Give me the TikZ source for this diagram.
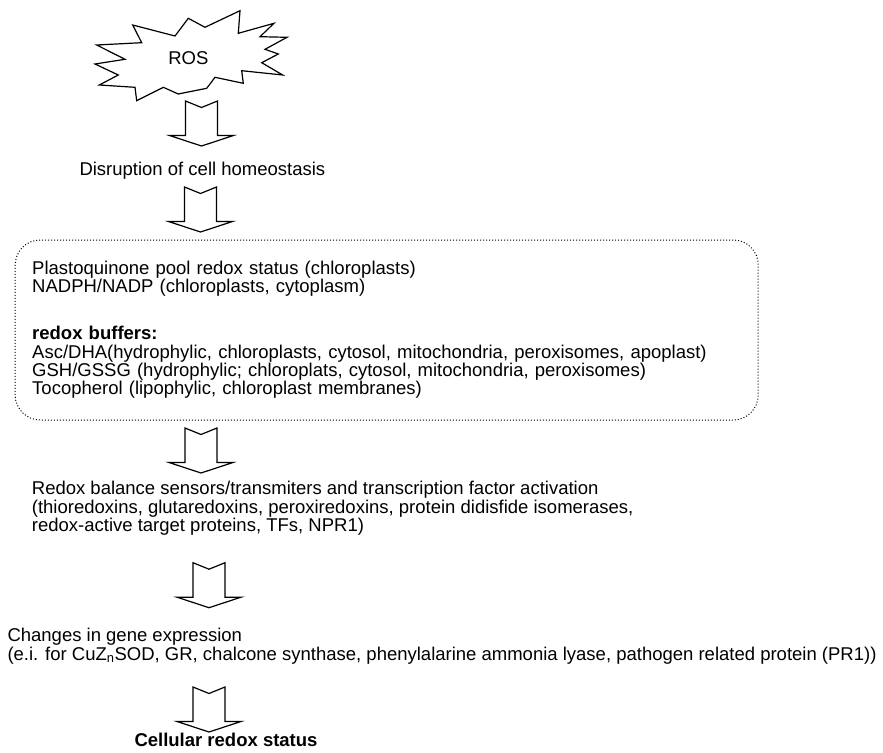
\documentclass[tikz,border=0pt]{standalone}
\usepackage{fontspec}
\setmainfont{Liberation Sans}
\usetikzlibrary{positioning}

\begin{document}
\begin{tikzpicture}[%
    x=1pt, y=-1pt,              % work in pixels of the page
    font=\fontsize{18.5}{18.4}\selectfont,
    ]

\tikzset{
  txt/.style={inner sep=0pt, anchor=base west, align=left},
  pools/.style={draw, dotted, line width=1pt, rounded corners=25pt, align=left,
                text width=709pt, inner xsep=17pt, inner ysep=0pt, minimum height=180pt},
  outline/.style={draw, line width=1.2pt, line join=miter},
  downarrow/.pic={\path[outline] (-16,0) -- (0,6.5) -- (16,0) -- (16,34.5) -- (32,34.5)
                  -- (0,45) -- (-32,34.5) -- (-16,34.5) -- cycle;}
  };

\useasboundingbox (0,0) rectangle (883,752);

% ROS burst
\path[outline] (132.7,25) -- (175,36) -- (188.3,18.3) -- (205,27.3) -- (240,10.7)
  -- (238.3,33.3) -- (274,23.3) -- (260,36.7) -- (287,37.3) -- (265,49.3)
  -- (278.3,54) -- (261.7,62.7) -- (282.7,75) -- (241.7,70.7) -- (243.3,83.3)
  -- (215,77.3) -- (206.7,88.3) -- (178.3,94) -- (163.3,87.3) -- (136.7,100.7)
  -- (135,87.3) -- (99.3,85) -- (118.3,75) -- (95,64) -- (125,59.3)
  -- (96.7,45) -- (141.7,42.7) -- cycle;
\node[inner sep=0pt] (ros) at (188.3,58.3) {ROS};

\pic at (201.5,101) {downarrow};

\node[txt] (disrupt) at (79.3,175) {Disruption of cell homeostasis};

\pic at (200.5,187) {downarrow};

% redox pools and buffers
\node[pools] (buffers) at (386.7,330) {%
  Plastoquinone pool redox status (chloroplasts)\\
  NADPH/NADP (chloroplasts, cytoplasm)\\[28.4pt]
  \textbf{redox buffers:}\\
  Asc/DHA(hydrophylic, chloroplasts, cytosol, mitochondria, peroxisomes, apoplast)\\
  GSH/GSSG (hydrophylic; chloroplats, cytosol, mitochondria, peroxisomes)\\
  Tocopherol (lipophylic, chloroplast membranes)};

\pic at (201,428) {downarrow};

% base is the last line here
\node[txt] (sensors) at (31.7,531.7) {%
  Redox balance sensors/transmiters and transcription factor activation\\
  (thioredoxins, glutaredoxins, peroxiredoxins, protein didisfide isomerases,\\
  redox-active target proteins, TFs, NPR1)};

\pic at (209,562.7) {downarrow};

\node[txt] (genes) at (7.3,660) {%
  Changes in gene expression\\
  (e.i. for CuZ\textsubscript{n}SOD, GR, chalcone synthase, phenylalarine ammonia lyase, pathogen related protein (PR1))};

\pic at (209,687) {downarrow};

\node[txt, font=\fontsize{18.5}{18.4}\selectfont\bfseries] (status) at (134.3,746) {Cellular redox status};

\end{tikzpicture}
\end{document}
